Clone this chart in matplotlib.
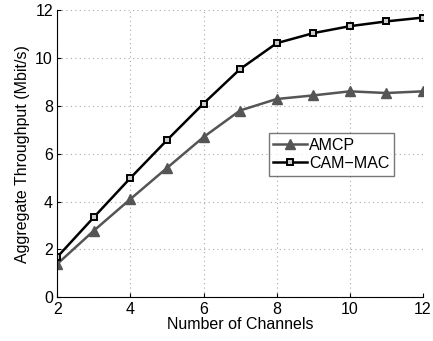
import matplotlib
matplotlib.use("Agg")
import matplotlib.pyplot as plt

plt.rcParams['font.family'] = ['Liberation Sans', 'DejaVu Sans']

channels = [2, 3, 4, 5, 6, 7, 8, 9, 10, 11, 12]
amcp = [1.39, 2.78, 4.10, 5.40, 6.69, 7.80, 8.28, 8.43, 8.60, 8.53, 8.60]
cam_mac = [1.68, 3.34, 4.98, 6.56, 8.09, 9.53, 10.61, 11.03, 11.32, 11.52, 11.68]
xticks = [2, 4, 6, 8, 10, 12]
yticks = [0, 2, 4, 6, 8, 10, 12]

fig = plt.figure(figsize=(4.33, 3.41), dpi=100)
ax = fig.add_axes([0.132, 0.128, 0.845, 0.843])

ax.plot(channels, amcp, color='#555555', lw=1.8, marker='^', ms=6.5,
        markerfacecolor='#555555', markeredgecolor='#555555', label='AMCP')
ax.plot(channels, cam_mac, color='black', lw=1.8, marker='s', ms=4.5,
        markerfacecolor='#cccccc', markeredgecolor='black', markeredgewidth=1.4,
        label='CAM\u2212MAC')

ax.set_xlim(2, 12)
ax.set_ylim(0, 12)
ax.set_xticks(xticks)
ax.set_yticks(yticks)
ax.grid(True, linestyle=(0, (1, 3)), color='#aaaaaa', lw=0.8)
ax.spines['top'].set_visible(False)
ax.spines['right'].set_visible(False)
ax.tick_params(labelsize=11.5, direction='in', length=3, pad=3)
ax.set_xlabel('Number of Channels', fontsize=11.5, labelpad=0)
ax.set_ylabel('Aggregate Throughput (Mbit/s)', fontsize=11.5, labelpad=4)

leg = ax.legend(loc='upper left', bbox_to_anchor=(0.578, 0.572), fontsize=11.5,
                frameon=True, fancybox=False, edgecolor='#555555',
                handlelength=2.1, handletextpad=0.12, borderpad=0.3,
                labelspacing=0.2, borderaxespad=0)
leg.get_frame().set_linewidth(1.0)

fig.savefig('out.png', dpi=100)
